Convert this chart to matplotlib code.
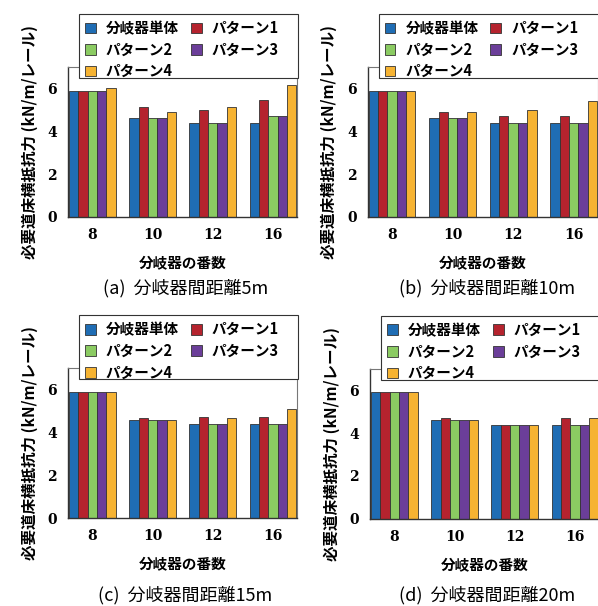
import numpy as np
import matplotlib
matplotlib.use('Agg')
import matplotlib.pyplot as plt
from matplotlib.patches import Rectangle

plt.rcParams['font.family'] = ['Noto Sans CJK JP', 'DejaVu Sans']

groups = ['8', '10', '12', '16']
series = ['分岐器単体', 'パターン1', 'パターン2', 'パターン3', 'パターン4']
colors = ['#1f6db4', '#b5232e', '#8bcb62', '#6b3e99', '#f6b332']

# values per panel: rows = series, cols = groups
vals_5m = [[5.9, 4.6, 4.4, 4.4],
           [5.9, 5.15, 5.0, 5.45],
           [5.9, 4.6, 4.4, 4.72],
           [5.9, 4.6, 4.4, 4.72],
           [6.0, 4.9, 5.15, 6.15]]
vals_10m = [[5.9, 4.62, 4.4, 4.4],
            [5.9, 4.9, 4.72, 4.72],
            [5.9, 4.62, 4.4, 4.4],
            [5.9, 4.62, 4.4, 4.4],
            [5.9, 4.9, 5.0, 5.43]]
vals_15m = [[5.9, 4.58, 4.38, 4.38],
            [5.9, 4.68, 4.72, 4.72],
            [5.9, 4.58, 4.38, 4.38],
            [5.9, 4.58, 4.38, 4.38],
            [5.9, 4.58, 4.68, 5.08]]
vals_20m = [[5.9, 4.62, 4.39, 4.39],
            [5.9, 4.72, 4.39, 4.72],
            [5.9, 4.62, 4.39, 4.39],
            [5.9, 4.62, 4.39, 4.39],
            [5.9, 4.62, 4.39, 4.72]]

captions = ['(a)  分岐器間距離5m', '(b)  分岐器間距離10m',
            '(c)  分岐器間距離15m', '(d)  分岐器間距離20m']
panels = [vals_5m, vals_10m, vals_15m, vals_20m]

fig = plt.figure(figsize=(5.98, 6.06), dpi=100)
positions = [[0.114, 0.642, 0.383, 0.2475],
             [0.615, 0.642, 0.385, 0.2475],
             [0.114, 0.145, 0.383, 0.2475],
             [0.619, 0.144, 0.383, 0.2475]]
cap_xy = [(0.31, 0.525), (0.815, 0.525), (0.31, 0.018), (0.815, 0.018)]

x = np.arange(len(groups))
w = 0.155
for k, vals in enumerate(panels):
    ax = fig.add_axes(positions[k])
    bars = []
    for i, s in enumerate(series):
        b = ax.bar(x + (i - 2) * w, vals[i], w, color=colors[i], edgecolor='#333333',
                   linewidth=0.6, label=s, zorder=2)
        bars.append(b)
    ax.set_xlim(-0.4, 3.4)
    ax.set_ylim(0, 7)
    ax.set_yticks([0, 2, 4, 6])
    ax.set_xticks(x)
    ax.set_xticklabels(groups, fontfamily='DejaVu Serif', fontweight='bold', fontsize=10)
    for t in ax.get_yticklabels():
        t.set_fontfamily('DejaVu Serif')
        t.set_fontweight('bold')
        t.set_fontsize(10)
    ax.tick_params(length=0, pad=8)
    for sp in ['top', 'right']:
        ax.spines[sp].set_color('#777777')
        ax.spines[sp].set_linewidth(0.8)
    for sp in ['left', 'bottom']:
        ax.spines[sp].set_color('#333333')
        ax.spines[sp].set_linewidth(1.0)
    ax.set_xlabel('分岐器の番数', fontsize=10.5, fontweight='bold', labelpad=9)
    ax.set_ylabel('必要道床横抵抗力 (kN/m/レール)', fontsize=11.2, fontweight='bold', labelpad=7)

    # legend box drawn as a patch so it spans the same width as the reference
    box = Rectangle((0.048, 0.927), 0.956, 0.426, transform=ax.transAxes,
                    facecolor='white', edgecolor='#333333', linewidth=0.8,
                    clip_on=False, zorder=4)
    ax.add_patch(box)
    order = [0, 2, 4, 1, 3]  # row-major order
    leg = ax.legend([bars[i] for i in order], [series[i] for i in order],
                    loc='upper left', bbox_to_anchor=(0.06, 1.332), ncol=2,
                    fontsize=10.5, frameon=False,
                    handlelength=0.75, handleheight=0.75, columnspacing=0.8,
                    labelspacing=0.38, borderpad=0.2, handletextpad=0.7,
                    borderaxespad=0)
    for t in leg.get_texts():
        t.set_fontweight('bold')
    leg.set_zorder(5)
    fig.text(cap_xy[k][0], cap_xy[k][1], captions[k], fontsize=13, ha='center', va='center')

fig.savefig('out.png', dpi=100)
